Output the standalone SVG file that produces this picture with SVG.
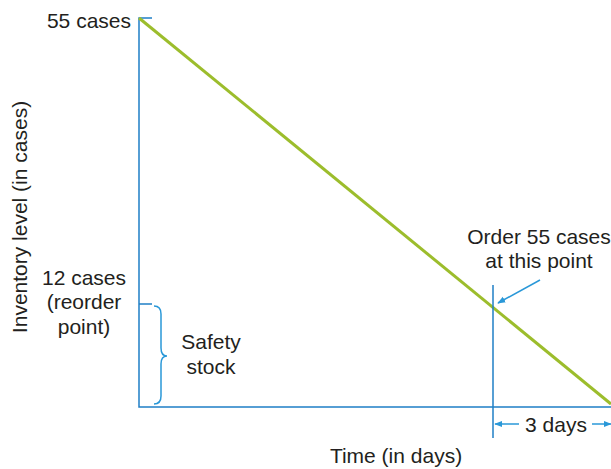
<svg xmlns="http://www.w3.org/2000/svg" width="611" height="469" viewBox="0 0 611 469">
<defs>
<style>
text{font-family:"Liberation Sans",Arial,sans-serif;font-size:21px;fill:#231f20}
.ax{stroke:#1f7fc6;stroke-width:1.5;fill:none}
.ar{stroke:#2a98d8;stroke-width:1.5;fill:none}
</style>
<marker id="ah" viewBox="0 0 10 10" refX="9" refY="5" markerWidth="8" markerHeight="8" orient="auto-start-reverse" markerUnits="userSpaceOnUse">
<path d="M0,1 L10,5 L0,9 Z" fill="#2a98d8"/>
</marker>
</defs>
<g id="connectors">
<path class="ax" d="M152,18 H139 V407 H611"/>
<path class="ax" d="M139,304 H152"/>
<line x1="139" y1="18" x2="611" y2="404" stroke="#9cbd2c" stroke-width="3"/>
<line class="ax" x1="493" y1="285" x2="493" y2="438"/>
<line class="ar" x1="540" y1="280" x2="498" y2="303" marker-end="url(#ah)"/>
<path class="ar" d="M154,306 Q161,306 161,314 V348 Q161,356 167,356 Q161,356 161,364 V396 Q161,404 154,404"/>
<line class="ar" x1="519" y1="424" x2="495" y2="424" marker-end="url(#ah)"/>
<line class="ar" x1="592" y1="424" x2="611" y2="424" marker-end="url(#ah)"/>
</g>
<g id="labels">
<text x="131" y="28" text-anchor="end">55 cases</text>
<text x="84" y="285" text-anchor="middle">12 cases</text>
<text x="84" y="309" text-anchor="middle">(reorder</text>
<text x="84" y="334" text-anchor="middle">point)</text>
<text x="211" y="349" text-anchor="middle">Safety</text>
<text x="211" y="374" text-anchor="middle">stock</text>
<text x="539" y="244" text-anchor="middle">Order 55 cases</text>
<text x="539" y="268" text-anchor="middle">at this point</text>
<text x="556" y="432" text-anchor="middle">3 days</text>
<text x="396" y="463" text-anchor="middle">Time (in days)</text>
<text transform="translate(27,217) rotate(-90)" text-anchor="middle">Inventory level (in cases)</text>
</g>
</svg>
